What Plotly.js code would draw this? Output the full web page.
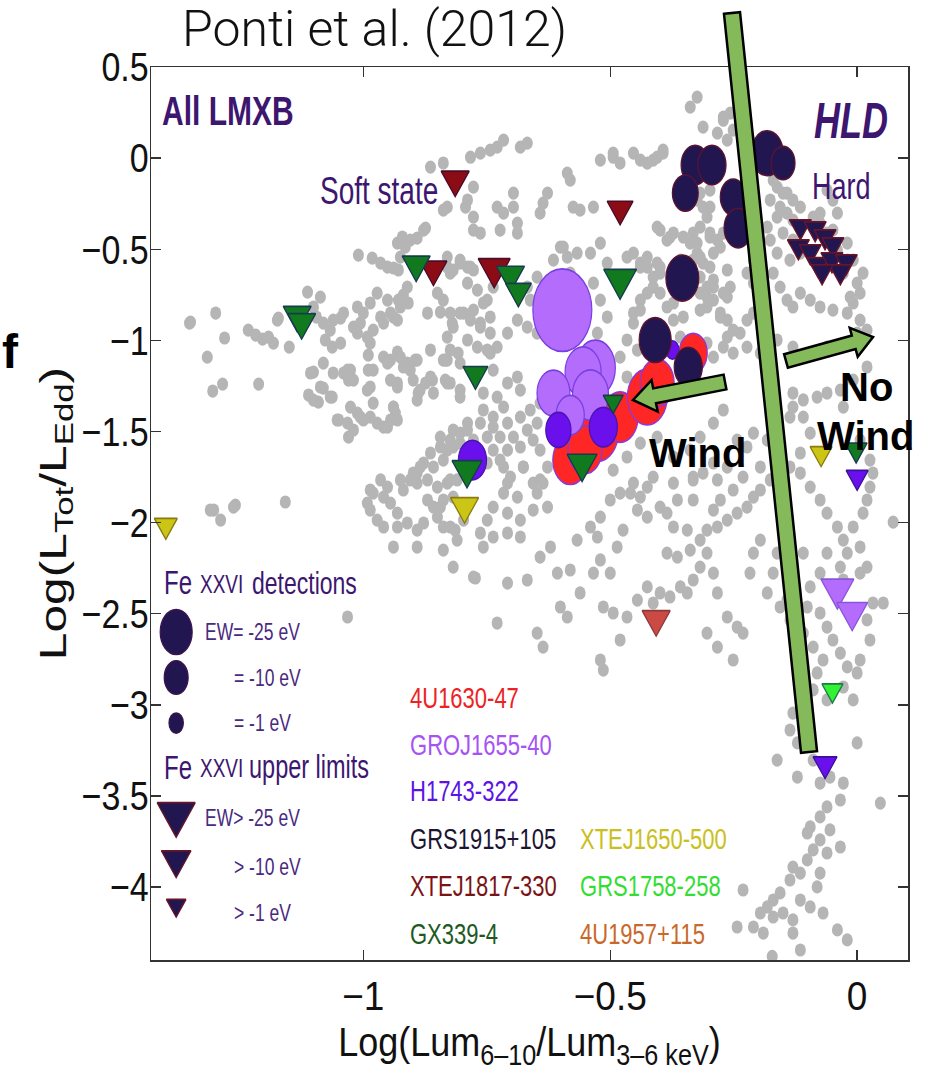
<!DOCTYPE html>
<html>
<head>
<meta charset="utf-8">
<script src="https://cdn.plot.ly/plotly-3.0.1.min.js"></script>
<style>html,body{margin:0;padding:0;background:#fff;}#chart{width:928px;height:1083px;}</style>
</head>
<body>
<div id="chart"></div>
<script>
// ---------------- DATA ----------------
// Background sample of all LMXB observations (grey points)
const grayX = [
-1.352,-1.299,-1.281,-1.316,-1.305,-1.285,-1.212,-1.233,-1.218,-1.204,-1.192,-1.182,-1.172,-1.150,-1.113,-1.087,-1.095,-1.081,-1.067,-1.077,
-1.063,-1.046,-1.046,-1.101,-1.081,-1.111,-1.091,-1.081,-1.063,-1.040,-1.030,-1.026,-1.020,-1.006,-1.000,-0.986,-0.992,-0.980,-0.965,-0.959,
-0.945,-0.931,-0.986,-1.012,-0.990,-0.990,-0.986,-0.959,-0.945,-0.931,-0.911,-0.905,-0.895,-0.945,-0.931,-1.050,-1.030,-1.012,-1.000,-0.986,
-0.972,-0.959,-0.945,-0.935,-0.939,-0.889,-0.891,-0.874,-0.858,-0.860,-0.834,-0.834,-0.808,-0.804,-0.864,-1.010,-0.982,-0.965,-0.951,-0.939,
-0.929,-0.931,-0.921,-0.915,-0.891,-0.874,-0.838,-0.793,-0.911,-0.919,-0.929,-0.909,-0.850,-0.838,-0.824,-0.844,-0.870,-0.820,-0.797,-0.830,
-0.824,-0.804,-0.789,-1.158,-1.259,-1.303,-1.289,-0.838,-0.864,-0.830,-0.878,-0.905,-0.925,-1.101,-1.061,-1.040,-1.012,-0.972,-0.951,-0.939,
-0.925,-1.174,-1.350,
-0.864,-0.844,-0.824,-0.804,-0.878,-0.858,-0.838,-0.891,-0.905,-0.919,-0.891,-0.870,-0.850,-0.824,-0.965,-0.986,-0.959,-0.945,-0.931,-0.986,
-0.972,-0.959,-0.931,-0.911,-0.891,-0.878,-0.858,-0.838,-0.818,-0.850,-0.838,-0.814,-0.797,-0.939,-0.891,-0.838,-0.818,-0.810,-0.870,-0.844,
-0.925,-0.899,-0.951,-0.980,-0.992,-0.830,-0.810,-0.818,-0.789,-1.032,
-1.107,-1.087,-1.101,-1.067,-1.061,-1.032,-1.020,-1.026,-1.053,-1.032,-1.020,-1.006,-0.980,-0.992,-0.980,-0.951,-0.925,-0.931,-0.939,-0.951,
-0.931,-0.919,-0.899,-0.885,-0.864,-0.838,-0.830,-0.891,-0.824,-1.310,-1.263,-0.885,-0.824,
-0.324,-0.338,-0.312,-0.283,-0.271,-0.257,-0.243,-0.251,-0.263,-0.223,-0.217,-0.520,-0.494,-0.480,-0.453,-0.439,-0.425,-0.405,-0.393,-0.587,
-0.581,-0.682,-0.668,-0.783,-0.763,-0.743,-0.729,-0.716,-0.777,-0.789,-0.777,-0.777,-0.763,-0.729,-0.716,-0.696,-0.696,-0.723,-0.688,-0.688,
-0.642,-0.627,-0.636,-0.575,-0.561,-0.534,-0.595,-0.587,-0.567,-0.405,-0.385,-0.372,-0.318,-0.324,-0.312,-0.304,-0.318,-0.298,-0.283,-0.271,
-0.277,-0.291,-0.332,-0.338,-0.324,-0.312,-0.298,-0.291,-0.263,-0.257,-0.271,-0.291,-0.332,-0.338,-0.332,-0.318,-0.304,-0.304,-0.277,-0.263,
-0.251,-0.237,-0.223,-0.210,-0.196,-0.210,-0.223,-0.210,-0.196,-0.162,-0.176,-0.156,-0.142,-0.130,-0.162,-0.150,-0.130,-0.115,-0.136,-0.162,
-0.176,-0.182,-0.170,-0.156,-0.142,-0.130,-0.115,-0.095,-0.075,-0.049,-0.020,-0.008,0.006,0.000,-0.028,-0.020,-0.040,-0.061,-0.075,-0.089,
-0.115,-0.130,-0.142,-0.040,-0.049,-0.061,0.012,0.006,0.020,0.000,
-0.804,-0.783,-0.789,-0.769,-0.749,-0.737,-0.777,-0.763,-0.743,-0.729,-0.708,-0.688,-0.668,-0.648,-0.636,-0.662,-0.668,-0.648,-0.615,-0.601,
-0.581,-0.540,-0.520,-0.506,-0.534,-0.520,-0.506,-0.526,-0.540,-0.453,-0.425,-0.413,-0.439,-0.453,-0.425,-0.399,-0.372,-0.385,-0.399,-0.364,
-0.344,-0.399,-0.358,-0.271,-0.251,-0.223,-0.196,-0.162,-0.130,-0.095,-0.061,
-0.830,-0.818,-0.777,-0.757,-0.743,-0.763,-0.783,-0.804,-0.818,-0.830,-0.789,-0.769,-0.749,-0.830,-0.804,-0.777,-0.824,-0.804,-0.757,-0.729,
-0.708,-0.688,-0.682,-0.716,-0.737,-0.757,
-0.844,-0.818,-0.789,-0.763,-0.737,-0.708,-0.682,-0.662,-0.642,-0.804,-0.777,-0.749,-0.723,-0.696,-0.668,-0.648,-0.830,-0.737,-0.708,-0.682,
-0.656,-0.642,-0.627,-0.676,-0.716,-0.749,-0.708,-0.656,-0.642,
-0.466,-0.439,-0.413,-0.425,-0.439,-0.453,-0.466,-0.480,-0.500,-0.445,-0.466,-0.425,-0.399,-0.372,-0.352,-0.318,-0.304,-0.277,-0.263,-0.291,
-0.304,-0.358,-0.271,-0.291,-0.318,-0.338,-0.372,-0.405,-0.439,-0.466,-0.494,-0.453,-0.413,-0.372,-0.332,-0.291,
-0.743,-0.737,-0.723,-0.702,-0.676,-0.716,-0.688,-0.737,-0.708,-0.682,-0.656,-0.627,-0.648,-0.636,-0.749,-0.763,-0.737,-0.708,-0.682,-0.757,
-0.777,-0.708,-0.668,-0.642,-0.621,-0.607,-0.581,-0.567,-0.540,-0.526,-0.520,-0.500,-0.486,-0.474,-0.520,-0.500,-0.480,-0.459,-0.439,-0.425,
-0.445,-0.425,-0.399,-0.385,-0.364,-0.372,-0.344,-0.385,-0.364,-0.338,-0.318,-0.304,-0.283,-0.263,-0.243,-0.223,-0.210,-0.196,-0.176,-0.156,
-0.136,-0.196,-0.231,-0.251,-0.277,-0.291,-0.332,-0.332,-0.312,-0.283,-0.263,-0.243,-0.223,-0.210,-0.182,-0.170,-0.136,-0.130,-0.109,-0.081,
-0.061,
-0.648,-0.636,-0.601,-0.587,-0.561,-0.534,-0.514,-0.494,-0.466,-0.480,-0.520,-0.514,-0.445,-0.425,-0.413,-0.399,-0.379,-0.358,-0.344,-0.332,
-0.318,-0.304,-0.291,-0.283,-0.304,-0.283,-0.263,-0.243,-0.251,-0.231,-0.217,-0.210,-0.196,-0.170,-0.162,-0.182,-0.156,-0.136,-0.729,-0.773,
-0.130,-0.109,-0.095,-0.115,-0.115,-0.095,-0.075,-0.061,-0.040,-0.028,-0.020,-0.034,-0.028,0.006,0.020,0.006,-0.008,0.012,0.020,0.026,
0.032,0.026,0.006,-0.028,-0.034,-0.008,0.020,-0.061,-0.075,-0.095,-0.101,-0.075,-0.061,-0.049,-0.034,-0.020,0.006,0.026,0.020,0.032,
0.053,0.000,-0.028,-0.061,-0.081,-0.069,-0.089,-0.109,-0.130,-0.142,-0.130,-0.109,-0.008,0.073,-0.089,
-0.130,-0.136,-0.121,-0.162,-0.121,-0.089,-0.075,-0.055,-0.028,-0.034,-0.061,-0.075,-0.095,-0.101,-0.075,-0.055,-0.089,-0.061,-0.034,0.000,
0.047,-0.101,-0.130,-0.115,-0.136,-0.156,-0.170,-0.182,-0.196,-0.210,-0.190,-0.170,-0.150,-0.130,-0.115,-0.095,-0.081,-0.075,-0.069,-0.040,
-0.020,-0.130,-0.115,-0.172,-0.231,-0.243,
-0.271,-0.393,-0.413,-0.494,-0.170,-0.150,-0.075,-0.049,-0.020,-0.008,-0.014,-0.298,-0.298,-0.298,-0.324,-0.352,-0.399,-0.379,-0.405,-0.318,
-0.318,-0.291,-0.263,-0.439
];
const grayY = [
-0.905,-0.850,-0.987,-1.092,-1.278,-1.240,-1.240,-0.944,-0.971,-0.993,-0.982,-1.015,-0.878,-1.037,-0.735,-0.763,-0.872,-0.905,-0.944,-0.998,
-1.037,-1.015,-0.878,-1.174,-1.125,-1.300,-1.339,-1.262,-1.311,-1.179,-1.218,-1.163,-0.927,-0.905,-0.850,-0.795,-0.982,-0.944,-0.872,-0.905,
-0.850,-0.889,-1.015,-0.960,-1.081,-1.163,-1.256,-1.092,-1.108,-1.064,-1.125,-1.163,-1.108,-1.218,-1.256,-1.437,-1.531,-1.399,-1.437,-1.421,
-1.454,-1.476,-1.437,-1.399,-1.366,-1.289,-1.328,-1.234,-1.289,-1.218,-1.108,-1.218,-1.070,-1.311,-1.053,-0.532,-0.549,-0.576,-0.598,-0.603,
-0.614,-0.466,-0.433,-0.488,-0.439,-0.384,-0.285,-0.269,-0.708,-0.752,-0.779,-0.795,-0.741,-0.779,-0.850,-0.845,-0.850,-0.905,-0.850,-0.598,
-0.631,-0.576,-0.598,-1.887,-1.904,-1.931,-1.986,-0.027,-0.049,-0.269,-0.395,-0.450,-0.543,-0.817,-0.889,-0.850,-0.817,-0.741,-0.779,-0.872,
-0.817,-0.889,-0.900,
-1.618,-1.585,-1.547,-1.509,-1.673,-1.695,-1.657,-1.728,-1.766,-1.821,-1.783,-1.766,-1.805,-1.766,-1.766,-1.821,-1.860,-1.893,-1.948,-1.931,
-1.986,-2.024,-2.024,-2.002,-2.041,-2.002,-1.915,-1.876,-1.860,-1.970,-2.024,-2.041,-1.986,-2.134,-2.134,-2.151,-2.244,-2.096,-1.876,-1.915,
-1.766,-1.728,-1.805,-1.838,-1.893,-1.783,-1.766,-1.585,-1.492,-2.518,
-1.179,-1.256,-1.328,-1.311,-1.179,-1.163,-1.218,-1.366,-1.437,-1.454,-1.492,-1.421,-1.344,-1.273,-1.163,-1.125,-1.092,-1.234,-1.366,-1.476,
-1.437,-1.146,-1.218,-1.273,-1.201,-1.108,-1.234,-1.108,-1.053,-1.931,-1.915,-1.695,-2.024,
0.335,0.280,0.170,0.137,0.208,0.247,0.263,0.154,0.099,0.192,0.099,-0.011,0.005,-0.027,0.027,-0.011,-0.027,0.005,0.044,-0.082,
-0.121,0.060,0.082,0.005,0.027,0.044,0.060,0.099,-0.159,-0.230,-0.324,-0.395,-0.411,-0.269,-0.302,-0.269,-0.192,-0.395,-0.357,-0.411,
-0.302,-0.192,-0.247,-0.269,-0.285,-0.269,-0.488,-0.543,-0.521,-0.379,-0.450,-0.411,-0.192,-0.230,-0.269,-0.324,-0.379,-0.411,-0.450,-0.411,
-0.488,-0.521,-0.411,-0.466,-0.521,-0.576,-0.598,-0.669,-0.614,-0.708,-0.741,-0.779,-0.560,-0.631,-0.686,-0.741,-0.708,-0.817,-0.850,-0.889,
-0.944,-0.960,-0.889,-0.850,-0.779,-0.686,-0.631,-0.560,-0.521,-0.159,-0.230,-0.269,-0.302,-0.340,-0.324,-0.411,-0.450,-0.521,-0.560,-0.521,
-0.450,-0.379,-0.631,-0.708,-0.779,-0.817,-0.741,-0.779,-0.817,-0.834,-0.850,-0.795,-0.741,-0.686,-0.631,-0.560,-0.505,-0.411,-0.357,-0.324,
-0.269,-0.230,-0.192,-0.302,-0.230,-0.176,-0.631,-0.889,-0.944,-0.960,
-0.560,-0.598,-0.686,-0.724,-0.779,-0.708,-0.834,-0.905,-0.960,-1.037,-0.960,-0.889,-0.927,-0.960,-0.872,-0.779,-0.708,-0.653,-0.560,-0.488,
-0.631,-0.521,-0.466,-0.576,-0.686,-0.779,-0.872,-0.960,-1.037,-0.521,-0.598,-0.708,-0.779,-0.850,-0.927,-0.960,-0.889,-0.817,-0.741,-0.741,
-0.708,-0.631,-0.560,-1.037,-1.070,-1.037,-1.070,-0.998,-1.037,-1.070,-1.037,
-0.543,-0.614,-0.614,-0.795,-0.872,-0.927,-0.889,-0.850,-0.927,-0.982,-0.998,-1.037,-1.053,-1.108,-1.125,-1.179,-1.234,-1.273,-1.289,-1.311,
-1.234,-1.201,-1.273,-1.366,-1.421,-1.382,
-1.531,-1.492,-1.454,-1.454,-1.476,-1.454,-1.421,-1.382,-1.344,-1.564,-1.547,-1.531,-1.531,-1.531,-1.492,-1.454,-1.602,-1.602,-1.602,-1.585,
-1.547,-1.602,-1.695,-1.695,-1.695,-1.673,-1.783,-1.783,-1.766,
-0.543,-0.576,-0.653,-0.741,-0.834,-0.905,-0.998,-1.092,-1.125,-1.053,-1.201,-0.543,-0.598,-0.795,-0.872,-0.834,-0.763,-0.872,-0.982,-1.092,
-1.015,-0.982,-1.382,-1.454,-1.531,-1.602,-1.640,-1.531,-1.564,-1.640,-1.712,-1.783,-1.750,-1.783,-1.750,-1.673,
-1.070,-1.163,-1.657,-1.750,-1.695,-1.838,-1.860,-1.915,-1.948,-1.986,-1.931,-1.915,-1.838,-1.783,-1.986,-2.057,-2.079,-2.057,-2.079,-2.134,
-2.299,-2.332,-2.315,-2.189,-2.134,-2.277,-2.260,-2.096,-2.024,-2.079,-2.205,-2.277,-2.134,-2.041,-1.970,-1.876,-1.838,-1.838,-1.860,-1.805,
-1.931,-1.970,-1.915,-1.948,-1.876,-2.024,-2.041,-2.167,-2.189,-2.151,-2.096,-2.041,-2.024,-1.986,-1.948,-1.915,-1.860,-1.821,-1.766,-1.728,
-1.695,-1.695,-1.750,-1.821,-1.876,-1.931,-1.876,-1.766,-1.728,-1.766,-1.695,-1.547,-1.585,-1.509,-1.547,-1.476,-1.421,-1.366,-1.327,-1.311,
-1.289,
-2.606,-2.683,-2.463,-2.518,-2.386,-2.277,-2.463,-2.496,-2.518,-2.644,-2.754,-2.809,-2.425,-2.353,-2.441,-2.386,-2.408,-2.353,-2.386,-2.315,
-2.244,-2.167,-2.277,-2.386,-2.606,-2.683,-2.518,-2.573,-2.754,-2.606,-2.277,-2.167,-2.096,-2.277,-2.167,-2.386,-2.463,-2.534,-2.551,-2.304,
-1.289,-1.421,-1.509,-1.618,-1.728,-1.805,-1.876,-1.948,-2.024,-2.096,-2.167,-2.244,-2.315,-2.277,-2.244,-2.134,-2.024,-1.948,-1.876,-1.805,
-1.728,-1.657,-1.547,-1.366,-1.273,-1.218,-1.146,-2.167,-2.277,-2.353,-2.463,-2.496,-2.573,-2.644,-2.716,-2.792,-2.754,-2.644,-2.534,-2.441,
-2.441,-2.825,-2.902,-2.973,-2.825,-2.754,-2.683,-2.606,-2.534,-2.425,-2.244,-2.167,-2.973,-1.997,-2.918,
-3.045,-3.138,-3.209,-3.303,-3.396,-3.303,-3.429,-3.396,-3.429,-3.522,-3.560,-3.615,-3.670,-3.703,-3.741,-3.686,-3.796,-3.813,-3.780,-3.209,
-3.539,-3.851,-3.890,-3.923,-3.961,-4.032,-4.071,-4.109,-4.142,-4.219,-4.252,-4.164,-4.142,-4.180,-4.071,-4.109,-3.999,-3.923,-4.142,-4.235,
-4.290,-4.252,-4.345,-4.380,-4.016,-4.219,
0.225,0.027,-0.011,0.027,-0.121,-0.192,-0.302,-0.395,-0.466,-0.560,-0.763,-0.176,-0.269,-0.433,-0.466,-0.433,-0.395,-0.433,-0.576,-0.543,
-0.653,-0.708,-0.763,-0.598
];

// Fe XXVI detections (circles): x = Log(L6-10/L3-6), y = Log(Ltot/LEdd), ew = line equivalent width (eV)
const u1630X  = [-0.581,-0.526,-0.480,-0.425,-0.405,-0.332,-0.551];
const u1630Y  = [-1.657,-1.503,-1.421,-1.311,-1.234,-1.070,-1.600];
const u1630EW = [-32,-53,-35,-46,-30,-17,-30];

const gro1655X  = [-0.597,-0.530,-0.555,-0.540,-0.615,-0.581];
const gro1655Y  = [-0.834,-1.152,-1.174,-1.300,-1.289,-1.410];
const gro1655EW = [-124,-46,-35,-35,-27,-17];

const h1743X  = [-0.605,-0.514,-0.779,-0.374];
const h1743Y  = [-1.492,-1.476,-1.657,-1.053];
const h1743EW = [-12,-17,-17,-0.5];

const grs1915X  = [-0.328,-0.294,-0.348,-0.251,-0.241,-0.182,-0.150,-0.354,-0.409,-0.342];
const grs1915Y  = [-0.038,-0.038,-0.192,-0.214,-0.384,0.027,-0.027,-0.658,-0.998,-1.146];
const grs1915EW = [-17,-17,-13,-13,-17,-25,-10,-27,-25,-17];

// Fe XXVI upper limits (down triangles): ew = upper limit on the equivalent width (eV)
const grs1915UlX  = [-0.115,-0.085,-0.065,-0.049,-0.119,-0.095,-0.079,-0.051,-0.022,-0.034,-0.071];
const grs1915UlY  = [-0.375,-0.386,-0.430,-0.474,-0.485,-0.512,-0.583,-0.556,-0.567,-0.622,-0.622];
const grs1915UlEW = [-2.3,-2.3,-2.3,-2.3,-2.3,-2.3,-2.3,-2.3,-2.3,-2.3,-2.3];

const xte1817X  = [-0.814,-0.480,-0.858,-0.735];
const xte1817Y  = [-0.118,-0.280,-0.610,-0.605];
const xte1817EW = [-8,-5.6,-6.7,-13.5];

const gx339X  = [-1.134,-1.125,-0.893,-0.702,-0.686,-0.480,-0.773,-0.790,-0.557,-0.494,-0.002];
const gx339Y  = [-0.860,-0.900,-0.584,-0.640,-0.730,-0.665,-1.185,-1.710,-1.675,-1.335,-1.600];
const gx339EW = [-8,-8,-8,-8,-5.6,-15,-4.7,-10.6,-10.6,-1.2,-2.3];

const xte1650X  = [-1.400,-0.795,-0.073];
const xte1650Y  = [-2.015,-1.910,-1.620];
const xte1650EW = [-3,-8,-2.3];

const grs1758X  = [-0.050];
const grs1758Y  = [-2.920];
const grs1758EW = [-1.7];

const u1957X  = [-0.407];
const u1957Y  = [-2.530];
const u1957EW = [-8];

const gro1655UlX  = [-0.040,-0.010];
const gro1655UlY  = [-2.365,-2.490];
const gro1655UlEW = [-15,-12];

const h1743UlX  = [0.000,-0.065];
const h1743UlY  = [-1.750,-3.325];
const h1743UlEW = [-2.3,-3.8];

// Key (in-plot legend of symbol sizes)
const keyEW      = [-25,-10,-1];
const keyX       = [-1.379,-1.379,-1.379];
const keyDetY    = [-2.60,-2.85,-3.10];
const keyUlY     = [-3.60,-3.85,-4.10];
const keyUlLabY  = [-3.62,-3.89,-4.14];
const keyDetLabels = ['EW= -25 eV','= -10 eV','= -1 eV'];
const keyUlLabels  = ['EW> -25 eV','> -10 eV','> -1 eV'];

const sourceNames = ['4U1630-47','GROJ1655-40','H1743-322','GRS1915+105','XTEJ1817-330','GX339-4','XTEJ1650-500','GRS1758-258','4U1957+115'];

// ---------------- STYLE ----------------
const SANS = 'Liberation Sans, Arial, sans-serif';
const PURPLE = '#3d1670';
const STRETCH = 1.38;          // vertical stretch of the original figure (in-plot texts)
const srcColor = {
  '4U1630-47':'#ee2222','GROJ1655-40':'#a652f5','H1743-322':'#5a14e6','GRS1915+105':'#1c1530',
  'XTEJ1817-330':'#7a1414','GX339-4':'#1d5a22','XTEJ1650-500':'#c9c020','GRS1758-258':'#33dd33','4U1957+115':'#c8692a'
};
const detSize = ew => 10 + 4.4*Math.sqrt(Math.abs(ew));
const ulSize  = ew => 13 + 4.0*Math.sqrt(Math.abs(ew));

function det(x,y,ew,fill,line){
  return {type:'scatter',mode:'markers',x:x,y:y,hoverinfo:'skip',showlegend:false,
    marker:{symbol:'circle',size:ew.map(detSize),color:fill,opacity:1,line:{color:line,width:1.2}}};
}
function ul(x,y,ew,fill,line){
  return {type:'scatter',mode:'markers',x:x,y:y,hoverinfo:'skip',showlegend:false,
    marker:{symbol:'triangle-down',size:ew.map(ulSize),color:fill,opacity:1,line:{color:line,width:1.2}}};
}

const traces = [
  {type:'scatter',mode:'markers',x:grayX,y:grayY,hoverinfo:'skip',showlegend:false,
   marker:{symbol:'circle',size:11,color:'#b5b5b5',line:{width:0}}},
  det(u1630X,u1630Y,u1630EW,'#ff2626','#8a3ad8'),
  det(gro1655X,gro1655Y,gro1655EW,'#b36cfb','#7a3fe0'),
  det(h1743X,h1743Y,h1743EW,'#6a10ec','#4a14b0'),
  det(grs1915X,grs1915Y,grs1915EW,'#211650','#5a1430'),
  ul(grs1915UlX,grs1915UlY,grs1915UlEW,'#211650','#6a1428'),
  ul(xte1817X,xte1817Y,xte1817EW,'#8c0c16','#4a0c2a'),
  ul(gx339X,gx339Y,gx339EW,'#127a1e','#163a50'),
  ul(xte1650X,xte1650Y,xte1650EW,'#cbc515','#8a7a10'),
  ul(grs1758X,grs1758Y,grs1758EW,'#33f233','#1f7a4a'),
  ul(u1957X,u1957Y,u1957EW,'#cc4a44','#8a3a3a'),
  ul(gro1655UlX,gro1655UlY,gro1655UlEW,'#b36cfb','#8a55d8'),
  ul(h1743UlX,h1743UlY,h1743UlEW,'#6a10ec','#3a109a'),
  det(keyX,keyDetY,keyEW,'#211650','#3a1450'),
  ul(keyX,keyUlY,keyEW,'#211650','#6a1428')
];

// ---------------- ANNOTATIONS ----------------
const ann = [];
function txt(x,y,text,size,color,extra){
  ann.push(Object.assign({xref:'x',yref:'y',x:x,y:y,text:text,showarrow:false,xanchor:'left',yanchor:'middle',
    font:{family:SANS,size:size,color:color}},extra||{}));
}
txt(-1.411,0.263,'<b>All LMXB</b>',30,PURPLE);
txt(-1.091,-0.176,'Soft state',28,PURPLE);
txt(-0.091,0.205,'<b><i>HLD</i></b>',36,PURPLE);
txt(-0.095,-0.159,'Hard',27,PURPLE);
txt(-1.407,-2.331,'Fe',24,PURPLE);
txt(-1.334,-2.338,'XXVI',19,PURPLE);
txt(-1.229,-2.331,'detections',23,PURPLE);
txt(-1.407,-3.341,'Fe',24,PURPLE);
txt(-1.334,-3.348,'XXVI',19,PURPLE);
txt(-1.235,-3.341,'upper limits',23.5,PURPLE);
const keyLabelX = [-1.324,-1.265,-1.265];
keyDetLabels.forEach((t,i)=>txt(keyLabelX[i],keyDetY[i],t,17.5,'#4a2a80'));
keyUlLabels.forEach((t,i)=>txt(keyLabelX[i],keyUlLabY[i],t,17.5,'#4a2a80'));
const nameX = [-0.909,-0.909,-0.909,-0.909,-0.909,-0.909,-0.565,-0.565,-0.565];
const nameY = [-2.957,-3.215,-3.472,-3.736,-3.993,-4.257,-3.736,-3.993,-4.257];
sourceNames.forEach((n,i)=>txt(nameX[i],nameY[i],n,22,srcColor[n]));
const nStretched = ann.length;   // texts above belong to the (vertically stretched) original figure
const BOLD = {family:SANS,size:40,color:'#000'};
ann.push({xref:'x',yref:'y',x:-0.324,y:-1.618,text:'<b>Wind</b>',showarrow:false,font:BOLD});
ann.push({xref:'x',yref:'y',x:0.018,y:-1.256,text:'<b>No</b>',showarrow:false,font:BOLD});
ann.push({xref:'x',yref:'y',x:0.016,y:-1.525,text:'<b>Wind</b>',showarrow:false,font:BOLD});
ann.push({xref:'paper',yref:'paper',x:0.2959,y:1.042,text:'Ponti et al. (2012)',showarrow:false,xanchor:'center',yanchor:'middle',
  font:{family:'Roboto, Lato, sans-serif',size:50,weight:300,color:'#111'}});
ann.push({xref:'paper',yref:'paper',x:-0.2,y:0.681,text:'<b>f</b>',showarrow:false,xanchor:'left',yanchor:'middle',
  font:{family:SANS,size:48,color:'#000'}});

// ---------------- SHAPES (overlay bar and arrows) ----------------
const GREEN = '#84ba5a';
function poly(pts){ return 'M'+pts.map(p=>p[0]+','+p[1]).join(' L')+' Z'; }
const shapes = [
  {type:'path',xref:'paper',yref:'paper',layer:'above',fillcolor:GREEN,line:{color:'#000',width:2.5},
   path:poly([[0.7569,1.0596],[0.7781,1.0614],[0.8798,0.2338],[0.8587,0.2320]])},
  {type:'path',xref:'paper',yref:'paper',layer:'above',fillcolor:GREEN,line:{color:'#000',width:2.5},
   path:poly([[0.7564,0.6555],[0.6634,0.6401],[0.6612,0.6494],[0.6367,0.6271],[0.6694,0.6142],[0.6671,0.6235],[0.7601,0.6390]])},
  {type:'path',xref:'paper',yref:'paper',layer:'above',fillcolor:GREEN,line:{color:'#000',width:2.5},
   path:poly([[0.8363,0.6784],[0.9258,0.6993],[0.9230,0.7080],[0.9538,0.6976],[0.9336,0.6755],[0.9308,0.6841],[0.8413,0.6632]])}
];

// ---------------- LAYOUT ----------------
const XTICK_SIZE = 37, YTICK_SIZE = 34, XTITLE_SIZE = 36, YTITLE_SIZE = 36;
const axisCommon = {showgrid:false,zeroline:false,showline:true,mirror:'ticks',ticks:'inside',ticklen:10,tickwidth:1.3,
  linecolor:'#333',linewidth:1.5,tickcolor:'#333'};
const layout = {
  width:928,height:1083,paper_bgcolor:'#fff',plot_bgcolor:'#fff',
  margin:{l:151,r:20,t:67,b:123},
  xaxis:Object.assign({},axisCommon,{range:[-1.43,0.103],tick0:0,dtick:0.5,ticklabelstandoff:3,
    tickfont:{family:SANS,size:XTICK_SIZE,color:'#111'},
    title:{text:'Log(Lum<sub>6–10</sub>/Lum<sub>3–6 keV</sub>)',standoff:0,font:{family:SANS,size:XTITLE_SIZE,color:'#111'}}}),
  yaxis:Object.assign({},axisCommon,{range:[-4.4,0.5],tick0:0,dtick:0.5,ticklabelstandoff:-6,
    tickfont:{family:SANS,size:YTICK_SIZE,color:'#111'},
    title:{text:'Log(L<sub>Tot</sub>/L<sub>Edd</sub>)',standoff:4,font:{family:SANS,size:YTITLE_SIZE,color:'#111'}}}),
  annotations:ann,
  shapes:shapes,
  showlegend:false
};

// subscripts: explicit pixel size, and the zero-width baseline-reset spans folded into the text that follows
function tidySubs(textEl, baseSize){
  Array.from(textEl.querySelectorAll('tspan')).forEach(ts=>{
    const st = ts.getAttribute('style') || '';
    if (/font-size:\s*70%/.test(st)) ts.setAttribute('style', st.replace(/font-size:\s*70%/, 'font-size:'+(0.7*baseSize).toFixed(1)+'px'));
  });
  const walker = document.createTreeWalker(textEl, NodeFilter.SHOW_TEXT);
  const tnodes = []; while (walker.nextNode()) tnodes.push(walker.currentNode);
  tnodes.forEach(n=>{ if (/\u200b/.test(n.textContent)) n.textContent = n.textContent.replace(/\u200b/g,''); });
  Array.from(textEl.querySelectorAll('tspan')).forEach(ts=>{
    if (ts.textContent !== '') return;
    const dyAttr = ts.getAttribute('dy') || '0';
    const em = parseFloat(getComputedStyle(ts).fontSize) || baseSize;
    const dyPx = /em$/.test(dyAttr) ? parseFloat(dyAttr)*em : parseFloat(dyAttr)||0;
    let nx = ts.nextSibling;
    while (nx && nx.nodeType === 3 && nx.textContent === '') nx = nx.nextSibling;
    if (nx && nx.nodeType === 3) {
      ts.setAttribute('dy', dyPx.toFixed(2));
      ts.textContent = nx.textContent; nx.parentNode.removeChild(nx);
    } else {
      if (nx && nx.nodeType === 1) {
        const d0 = parseFloat(nx.getAttribute('dy')) || 0;
        nx.setAttribute('dy', (d0 + dyPx).toFixed(2));
      }
      ts.parentNode.removeChild(ts);
    }
  });
}
// reproduce the stretch of the original figure on its texts and symbols
function stretchEl(el,sx,sy,dy){
  const bb = el.getBBox();
  const cx = bb.x + bb.width/2, cy = bb.y + bb.height/2;
  const old = el.getAttribute('transform') || '';
  el.setAttribute('transform', old+' translate(0,'+(dy||0)+') translate('+cx+','+cy+') scale('+sx+','+sy+') translate('+(-cx)+','+(-cy)+')');
}
Plotly.newPlot('chart',traces,layout,{displayModeBar:false,staticPlot:true}).then(gd=>{
  gd.querySelectorAll('g.g-xtitle text').forEach(el=>tidySubs(el,XTITLE_SIZE));
  gd.querySelectorAll('g.g-ytitle text').forEach(el=>tidySubs(el,YTITLE_SIZE));
  gd.querySelectorAll('g.xtick text').forEach(el=>stretchEl(el,1,1.08));
  gd.querySelectorAll('g.ytick text').forEach(el=>stretchEl(el,1,1.2));
  gd.querySelectorAll('g.g-xtitle text').forEach(el=>stretchEl(el,1,1.15,5));
  gd.querySelectorAll('g.g-ytitle text').forEach(el=>stretchEl(el,STRETCH,1));
  gd.querySelectorAll('g.annotation').forEach(g=>{
    const idx = +g.getAttribute('data-index');
    const t = g.querySelector('text.annotation-text');
    if (t && idx < nStretched) stretchEl(t,1,STRETCH);
  });
  gd.querySelectorAll('.scatterlayer g.trace').forEach((tr,i)=>{
    const f = i===0 ? 1.2 : 1.4;
    tr.querySelectorAll('path.point').forEach(p=>{
      p.setAttribute('transform',(p.getAttribute('transform')||'')+' scale(1,'+f+')');
    });
  });
});
</script>
</body>
</html>
